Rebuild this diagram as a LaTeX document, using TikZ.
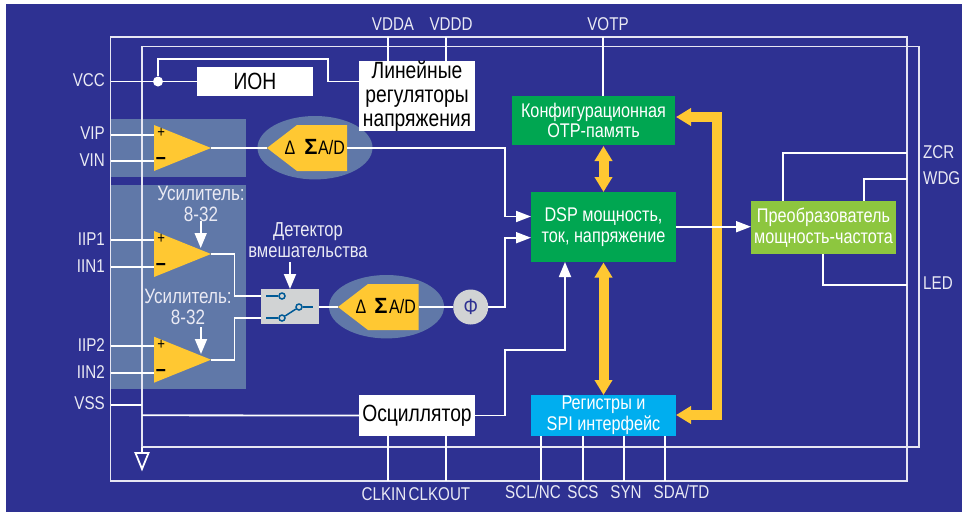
\documentclass[tikz,border=0pt]{standalone}
\usepackage{fontspec}
\setmainfont[FakeStretch=0.82]{Liberation Sans}
\newfontfamily\sigmafont{Liberation Sans}
\usetikzlibrary{arrows.meta}
\definecolor{bg}{HTML}{2E3192}
\definecolor{panel}{HTML}{6078A8}
\definecolor{amber}{HTML}{FFC832}
\definecolor{dgreen}{HTML}{00A651}
\definecolor{lgreen}{HTML}{8DC63F}
\definecolor{sky}{HTML}{00AEEF}
\definecolor{lgray}{HTML}{D1D3D4}
\definecolor{swblue}{HTML}{005A96}
\tikzset{
  x=1pt,y=-1pt,
  wire/.style={draw=white,line width=1.8pt},
  frameline/.style={draw=white!88!bg,line width=1.3pt},
  arr/.style={wire,-{Triangle[length=15pt,width=11pt]}},
  arrv/.style={wire,-{Triangle[length=15pt,width=12pt]}},
  bus/.style={draw=amber,line width=10pt,{Triangle[length=15pt,width=17pt]}-{Triangle[length=15pt,width=17pt]}},
  blk/.style={inner sep=0pt,align=center,font=\fontsize{23.5}{24}\selectfont},
  whitebox/.style={blk,fill=white,text=black},
  colorbox/.style={blk,text=white,font=\fontsize{19.8}{20.8}\selectfont},
  pin/.style={inner sep=0pt,text=white!90!bg,font=\fontsize{18.5}{20}\selectfont},
  note/.style={inner sep=0pt,align=center,text=white!90!bg,font=\fontsize{20.2}{21}\selectfont},
  gainnote/.style={note,font=\fontsize{20.8}{21}\selectfont},
  plus/.style={inner sep=0pt,text=black,font=\fontsize{16}{16}\selectfont},
  minus/.style={inner sep=0pt,text=black,font=\fontsize{22}{22}\selectfont\bfseries},
  swdot/.style={circle,draw=swblue,fill=lgray,line width=1.5pt,minimum size=6pt,inner sep=0pt},
  swline/.style={draw=swblue,line width=1.5pt},
  adtext/.style={inner sep=0pt,text=black,font=\fontsize{19.5}{19.5}\selectfont},
  adsig/.style={inner sep=0pt,text=black,font=\fontsize{22}{22}\sigmafont\bfseries},
}
\begin{document}
\begin{tikzpicture}
\useasboundingbox (0,0) rectangle (962,512);
\fill[white] (0,0) rectangle (962,512);
\fill[bg] (6,4) rectangle (962,512);
% panels
\fill[panel] (111,119) rectangle (246,177);
\fill[panel] (111,185) rectangle (246,389);
\fill[panel] (315,147.7) ellipse [x radius=57.5,y radius=31.7];
\fill[panel] (386.5,306.7) ellipse [x radius=57.5,y radius=31.7];
% frames
\draw[frameline] (110.5,37) rectangle (907,481);
\draw[frameline] (142,46.5) rectangle (919,447);
% blocks
\node[whitebox,minimum width=116pt,minimum height=29pt] (ion) at (255,81.5) {ИОН};
\node[whitebox,minimum width=116pt,minimum height=68.5pt] (lin) at (417,96.3) {Линейные\\регуляторы\\напряжения};
\node[whitebox,minimum width=116pt,minimum height=41pt] (osc) at (417,415.5) {Осциллятор};
\node[colorbox,fill=dgreen,minimum width=163pt,minimum height=49pt] (conf) at (593.5,120.5) {Конфигурационная\\OTP-память};
\node[colorbox,fill=dgreen,minimum width=145pt,minimum height=70pt] (dsp) at (603.5,227) {DSP мощность,\\ток, напряжение};
\node[colorbox,fill=sky,minimum width=145pt,minimum height=41pt] (reg) at (603.5,415.5) {Регистры и\\SPI интерфейс};
\node[colorbox,fill=lgreen,minimum width=145pt,minimum height=53pt] (conv) at (823.5,227.5) {Преобразователь\\мощность-частота};
\node[fill=lgray,inner sep=0pt,minimum width=58pt,minimum height=34.7pt] (sw) at (290,306.3) {};
\node[circle,fill=lgray,inner sep=0pt,minimum size=35pt,text=bg,font=\fontsize{22}{22}\selectfont] (phi) at (470.7,307) {Φ};
% coordinates
\coordinate (pvcc) at (110.5,81.5);
\coordinate (pvip) at (110.5,135);
\coordinate (pvin) at (110.5,161);
\coordinate (piip1) at (110.5,240);
\coordinate (piin1) at (110.5,267);
\coordinate (piip2) at (110.5,345.7);
\coordinate (piin2) at (110.5,373);
\coordinate (pvss) at (110.5,405);
\coordinate (gnd) at (142,405);
\coordinate (gndb) at (142,453);
\coordinate (a1p) at (154,135); \coordinate (a1n) at (154,161); \coordinate (a1o) at (211,148);
\coordinate (a2p) at (154,240); \coordinate (a2n) at (154,267); \coordinate (a2o) at (211,254);
\coordinate (a3p) at (154,345.7); \coordinate (a3n) at (154,373); \coordinate (a3o) at (211,359.7);
\coordinate (ad1t) at (267,148); \coordinate (ad1o) at (347,148);
\coordinate (ad2t) at (338,307); \coordinate (ad2o) at (418.5,307);
\coordinate (swa) at (261,295.7); \coordinate (swb) at (261,317.7); \coordinate (swo) at (319,307);
% yellow shapes
\fill[amber] (154,125) -- (a1o) -- (154,171) -- cycle;
\fill[amber] (154,231) -- (a2o) -- (154,277) -- cycle;
\fill[amber] (154,336.7) -- (a3o) -- (154,382.7) -- cycle;
\fill[amber] (ad1t) -- (297,125) -- (347,125) -- (347,171) -- (297,171) -- cycle;
\fill[amber] (ad2t) -- (368,284) -- (418.5,284) -- (418.5,330) -- (368,330) -- cycle;
% signs
\node[plus] (s1) at (161.3,133) {+};
\node[minus] (s2) at (161,160.5) {–};
\node[plus] (s3) at (161.3,238.5) {+};
\node[minus] (s4) at (161,266.5) {–};
\node[plus] (s5) at (161.3,344.5) {+};
\node[minus] (s6) at (161,372.5) {–};
% A/D text
\node[adtext] (d1) at (290,148) {Δ};
\node[adsig] (g1) at (311,147) {Σ};
\node[adtext] (t1) at (331.5,148) {A/D};
\node[adtext] (d2) at (361,307) {Δ};
\node[adsig] (g2) at (381,306) {Σ};
\node[adtext] (t2) at (402.5,307) {A/D};
% switch
\node[swdot] (c1) at (282,296) {};
\node[swdot] (c2) at (282,318) {};
\node[swdot] (c3) at (299,307) {};
\coordinate (c1l) at (266,296); \coordinate (c2l) at (266,318); \coordinate (c3r) at (313,307);
\draw[swline] (c1l) -- (c1);
\draw[swline] (c2l) -- (c2);
\draw[swline] (c2) -- (c3);
\draw[swline] (c3) -- (c3r);
% wires
\node[circle,fill=white,inner sep=0pt,minimum size=10pt] (vdot) at (158,81.5) {};
\draw[wire] (pvcc) -- (ion.west);
\coordinate (linin) at (359,81.5);
\draw[wire] (vdot) -- (158,59) -- (328,59) -- (328,81.5) -- (linin);
\draw[wire] (pvip) -- (a1p);
\draw[wire] (pvin) -- (a1n);
\draw[wire] (piip1) -- (a2p);
\draw[wire] (piin1) -- (a2n);
\draw[wire] (piip2) -- (a3p);
\draw[wire] (piin2) -- (a3n);
\draw[wire] (pvss) -- (gnd);
\draw[wire] (142,447) -- (gndb);
\draw[wire,fill=bg,line join=miter] (135.5,453) -- (148.5,453) -- (142,469) -- cycle;
\draw[wire] (a1o) -- (ad1t);
\draw[wire] (a2o) -- (234.5,254) -- (234.5,295.7) -- (swa);
\draw[wire] (a3o) -- (234.5,359.7) -- (234.5,317.7) -- (swb);
\draw[wire] (swo) -- (ad2t);
\draw[wire] (ad2o) -- (phi);
% pins top
\coordinate (vdda) at (388,37); \coordinate (vddd) at (446,37); \coordinate (votp) at (603,37);
\draw[wire] (vdda) -- (388,62);
\draw[wire] (vddd) -- (446,62);
\draw[wire] (votp) -- (603,96);
\foreach \x in {388,446,541,583,624,665}{\draw[wire] (\x,436) -- (\x,481);}
\coordinate (oscw) at (142,415.3);
\draw[wire] (oscw) -- (osc.west);
% yellow buses
\draw[bus] (603.5,146) -- (603.5,192);
\draw[bus] (603.5,262.5) -- (603.5,395);
\draw[bus,line join=miter] (676,117) -- (717,117) -- (717,415) -- (676,415);
% wires into dsp
\coordinate (dspa) at (531,216.5); \coordinate (dspb) at (531,237.7); \coordinate (dspc) at (565,262);
\draw[arr] (ad1o) -- (505,148) -- (505,216.5) -- (dspa);
\draw[arr] (phi) -- (505,307) -- (505,237.7) -- (dspb);
\draw[arrv] (osc.east) -- (505,415.5) -- (505,350) -- (565,350) -- (dspc);
\coordinate (dspo) at (676,226.7); \coordinate (convi) at (751,226.7);
\draw[arr] (dspo) -- (convi);
% converter outs
\draw[wire] (907,153) -- (782.7,153) -- (782.7,201);
\draw[wire] (907,179) -- (863.7,179) -- (863.7,201);
\draw[wire] (907,285) -- (823,285) -- (823,254);
% gain arrows
\coordinate (g1s) at (200.7,221); \coordinate (g1e) at (200.7,248);
\coordinate (g2s) at (201,327); \coordinate (g2e) at (201,354);
\coordinate (dets) at (290,262); \coordinate (dete) at (290,289);
\draw[arrv] (g1s) -- (g1e);
\draw[arrv] (g2s) -- (g2e);
\draw[arrv] (dets) -- (dete);
% notes
\node[gainnote] (n1) at (201,203.5) {Усилитель:\\8-32};
\node[gainnote] (n2) at (188,306.5) {Усилитель:\\8-32};
\node[note] (n3) at (308,240) {Детектор\\вмешательства};
% pin labels
\node[pin,anchor=east] (lvcc) at (105,80) {VCC};
\node[pin,anchor=east] (lvip) at (105,133) {VIP};
\node[pin,anchor=east] (lvin) at (105,160) {VIN};
\node[pin,anchor=east] (liip1) at (105,239) {IIP1};
\node[pin,anchor=east] (liin1) at (105,266) {IIN1};
\node[pin,anchor=east] (liip2) at (105,345) {IIP2};
\node[pin,anchor=east] (liin2) at (105,372) {IIN2};
\node[pin,anchor=east] (lvss) at (105,403) {VSS};
\node[pin] (lvdda) at (393,24) {VDDA};
\node[pin] (lvddd) at (451,24) {VDDD};
\node[pin] (lvotp) at (608,24) {VOTP};
\node[pin,anchor=west] (lzcr) at (923,152) {ZCR};
\node[pin,anchor=west] (lwdg) at (923,178) {WDG};
\node[pin,anchor=west] (lled) at (923,283) {LED};
\node[pin] (lclki) at (384,494) {CLKIN};
\node[pin] (lclko) at (439.5,494) {CLKOUT};
\node[pin] (lscl) at (533,492) {SCL/NC};
\node[pin] (lscs) at (583,492) {SCS};
\node[pin] (lsyn) at (626,492) {SYN};
\node[pin] (lsda) at (681.5,492) {SDA/TD};
\end{tikzpicture}
\end{document}
